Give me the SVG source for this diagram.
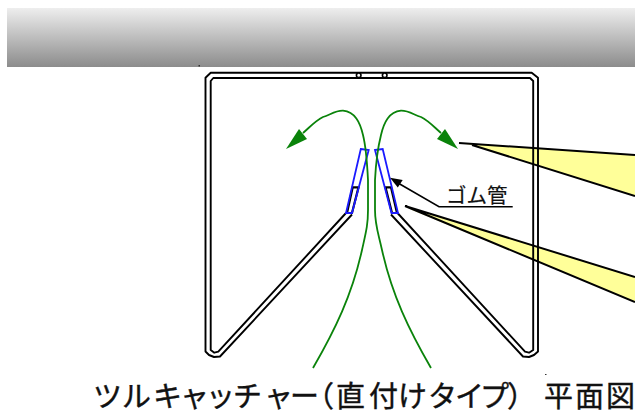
<svg xmlns="http://www.w3.org/2000/svg" width="635" height="414" viewBox="0 0 635 414">
<style>
.f{fill:none;stroke:#000;stroke-width:1.9;stroke-linejoin:round}
.g{fill:none;stroke:#0a830a;stroke-width:1.8;stroke-linejoin:round}
.h{fill:#0a830a;stroke:none}
.b{fill:none;stroke:#1a1aff;stroke-width:1.8}
.t{fill:none;stroke:#000;stroke-width:2.200}
.y{fill:#ffff99;stroke:none}
.k{fill:none;stroke:#000;stroke-width:1.600}
.e{fill:none;stroke:#000;stroke-width:2}
.l{font-family:"Noto Sans CJK JP","Liberation Sans",sans-serif;fill:#111;stroke:#111}
</style>
<defs><linearGradient id="bar" x1="0" y1="0" x2="0" y2="1"><stop offset="0" stop-color="#eeeeee"/><stop offset="1" stop-color="#8c8c8c"/></linearGradient></defs>
<rect x="7" y="8" width="628" height="59" fill="url(#bar)"/>
<rect x="198.500" y="65" width="1.500" height="1.500" fill="#333"/>
<rect x="545" y="374" width="1.500" height="1" fill="#333"/>
<g id="callouts">
<path class="y" d="M459 143L635 155L635 196L472 145Z"/>
<path class="y" d="M405 206L635 277L635 302L412 210Z"/>
</g>
<g id="frame">
<path class="f" d="M352 214.500L220 356.500L214 357L209 355L205.500 351.500L205.500 77.700L210.700 72.800L531.700 72.800L538 77.700L538 351.500L534 355L529 357L523 356.500L391 214.500"/>
<path class="f" d="M346 213L218.300 351.700L214.300 352.700L210.700 350L210.700 81L213.300 78L530 78L533.200 81L533.200 350L529 352.700L525 351.700L397.500 213"/>
<circle class="k" cx="358.700" cy="75.300" r="2.300" style="fill:#fff"/>
<circle class="k" cx="384.700" cy="75.300" r="2.300" style="fill:#fff"/>
</g>
<g id="tubes">
<path class="t" d="M352.700 187.300L358.500 187.300L352 213L347 213Z"/>
<path class="t" d="M385.500 187.300L391 187.300L397 213L392 213Z"/>
<path class="b" d="M360.800 149L368.700 150L352 213L346 213Z"/>
<path class="b" d="M375 150L382.700 149L398 213L391.500 213Z"/>
</g>
<g id="connectors">
<path class="g" d="M313 368C335 330 352 295 362 250C366 232 368 225 368 210L368 180C367 160 366 147 363 135C360 122 355 112 343 110.700C335 110.500 330 115 323 117C315 121 310 127 303 133"/>
<path class="h" d="M286 149L299 129L307 139Z"/>
<path class="g" d="M431 368C409 330 392 295 382 250C378 232 375 225 375 210L375 180C376 160 378 147 381 135C384 122 389 112 401 110.700C409 110.500 414 115 421 117C429 121 434 127 441 133"/>
<path class="h" d="M458 149L445 129L437 139Z"/>
<path class="k" d="M512.700 206.700L439 206.700L398 183"/>
<path d="M390 177.700L402.700 180L397.800 187.500Z" fill="#000"/>
<path class="e" d="M459 143L635 155M472 145L635 196"/>
<path class="e" d="M405 206L635 277M405 206L635 302"/>
</g>
<g id="labels">
<text class="l" x="446" y="203" font-size="20.500" stroke-width="0.200">ゴム管</text>
<text class="l" y="407" font-size="29" stroke-width="0.400" x="93 122 153 180 206 233 264 290 305 336 369 398 428 455 480 507 534 544 575 606">ツルキャッチャー（直付けタイプ） 平面図</text>
</g>
</svg>
